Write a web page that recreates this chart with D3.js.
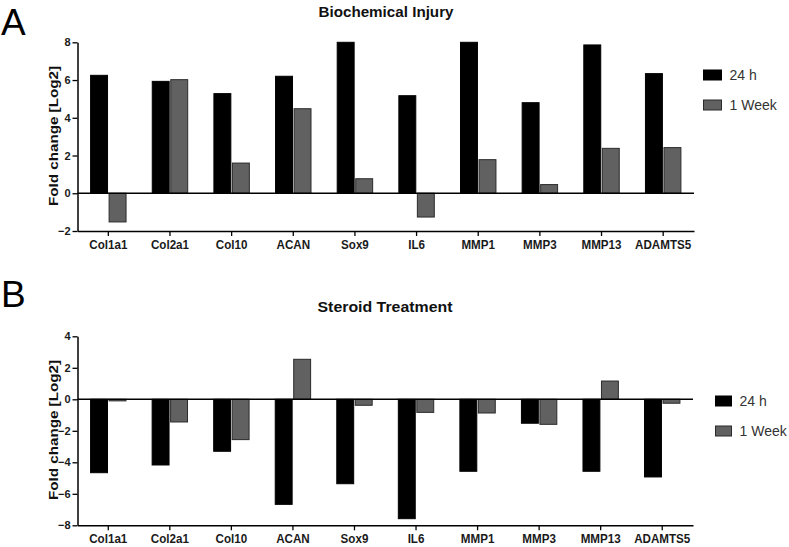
<!DOCTYPE html>
<html>
<head>
<meta charset="utf-8">
<script src="https://cdn.jsdelivr.net/npm/d3@7"></script>
<style>
  html, body { margin: 0; padding: 0; background: #fff; }
  svg { display: block; font-family: "Liberation Sans", Arial, sans-serif; }
</style>
</head>
<body>
<svg id="chart" width="789" height="547"></svg>
<script>
// ---- data ----
const categories = ["Col1a1","Col2a1","Col10","ACAN","Sox9","IL6","MMP1","MMP3","MMP13","ADAMTS5"];
const seriesNames = ["24 h", "1 Week"];
const injury24h  = [6.25, 5.93, 5.28, 6.20, 8.00, 5.17, 8.00, 4.80, 7.86, 6.34];
const injury1wk  = [-1.52, 6.02, 1.60, 4.48, 0.77, -1.26, 1.78, 0.46, 2.38, 2.42];
const steroid24h = [-4.66, -4.17, -3.30, -6.67, -5.36, -7.58, -4.57, -1.52, -4.57, -4.93];
const steroid1wk = [-0.10, -1.44, -2.56, 2.54, -0.38, -0.83, -0.87, -1.59, 1.16, -0.25];
const injuryTicks  = [-2, 0, 2, 4, 6, 8];
const steroidTicks = [-8, -6, -4, -2, 0, 2, 4];
const panelTitles = ["Biochemical Injury", "Steroid Treatment"];
const panelLetters = ["A", "B"];
const yLabel = "Fold change [Log2]";

// ---- styles ----
const fills = ["#000000", "#616161"];
const strokes = ["#000000", "#2b2b2b"];

const svg = d3.select("#chart");

function panel(cfg) {
  const g = svg.append("g");
  const x = d3.scaleBand().domain(categories).range(cfg.xr).paddingInner(0.425).paddingOuter(0.2125);
  const xs = d3.scaleBand().domain(seriesNames).range([0, x.bandwidth()]).paddingInner(0.085).paddingOuter(0);
  const y = d3.scaleLinear().domain(cfg.dom).range(cfg.yr);

  // letter
  g.append("text").attr("x", 1).attr("y", cfg.letterY)
    .attr("font-size", 37).attr("fill", "#000").text(cfg.letter);

  // title
  g.append("text").attr("x", cfg.titleX).attr("y", cfg.titleY)
    .attr("text-anchor", "middle").attr("font-size", 14).attr("font-weight", "bold")
    .attr("textLength", 135).attr("lengthAdjust", "spacingAndGlyphs")
    .attr("fill", "#111").text(cfg.title);

  // bars
  const data = [];
  categories.forEach((c, i) => {
    data.push({c, s: seriesNames[0], v: cfg.a[i], k: 0});
    data.push({c, s: seriesNames[1], v: cfg.b[i], k: 1});
  });
  g.append("g").selectAll("rect").data(data).join("rect")
    .attr("x", d => x(d.c) + xs(d.s))
    .attr("width", xs.bandwidth())
    .attr("y", d => y(Math.max(0, d.v)))
    .attr("height", d => Math.abs(y(d.v) - y(0)))
    .attr("fill", d => fills[d.k])
    .attr("stroke", d => strokes[d.k])
    .attr("stroke-width", 1);

  // zero line
  g.append("line").attr("x1", cfg.xr[0]).attr("x2", cfg.xr[1])
    .attr("y1", y(0)).attr("y2", y(0)).attr("stroke", "#000").attr("stroke-width", 1.5);

  // y axis
  const ya = g.append("g").attr("transform", `translate(${cfg.xr[0]},0)`)
    .call(d3.axisLeft(y).tickValues(cfg.ticks).tickSize(5).tickSizeOuter(0).tickPadding(2).tickFormat(d3.format("d")));
  ya.select(".domain").attr("stroke", "#000").attr("stroke-width", 1.5);
  ya.selectAll(".tick line").attr("stroke", "#000").attr("stroke-width", 1.3);
  ya.selectAll(".tick text").attr("font-size", 11).attr("font-weight", "bold")
    .attr("fill", "#1a1a1a").attr("font-family", "Liberation Sans, Arial, sans-serif");

  // x axis at bottom
  const xa = g.append("g").attr("transform", `translate(0,${cfg.yr[0]})`)
    .call(d3.axisBottom(x).tickSize(5).tickSizeOuter(0).tickPadding(4));
  xa.select(".domain").attr("stroke", "#000").attr("stroke-width", 1.5);
  xa.selectAll(".tick line").attr("stroke", "#000").attr("stroke-width", 1.3);
  xa.selectAll(".tick text").attr("font-size", 12.5).attr("font-weight", "bold")
    .attr("fill", "#1a1a1a").attr("font-family", "Liberation Sans, Arial, sans-serif")
    .each(function () {
      const w = this.getComputedTextLength();
      d3.select(this).attr("textLength", w * 0.93).attr("lengthAdjust", "spacingAndGlyphs");
    });

  // y label
  g.append("text").attr("transform", `translate(58,${cfg.ylabY}) rotate(-90)`)
    .attr("text-anchor", "middle").attr("font-size", 12.5).attr("font-weight", "bold")
    .attr("textLength", 140).attr("lengthAdjust", "spacingAndGlyphs")
    .attr("fill", "#111").text(yLabel);

  // legend
  const lg = g.append("g");
  seriesNames.forEach((s, k) => {
    lg.append("rect").attr("x", cfg.legX).attr("y", cfg.legY + k * 30)
      .attr("width", cfg.legW).attr("height", 10)
      .attr("fill", fills[k]).attr("stroke", strokes[k]).attr("stroke-width", 1);
    lg.append("text").attr("x", cfg.legX + cfg.legW + 8).attr("y", cfg.legY + k * 30 + 10)
      .attr("font-size", 14).attr("fill", "#333").text(s);
  });
}

panel({
  letter: panelLetters[0], letterY: 34.5,
  title: panelTitles[0], titleX: 386, titleY: 17,
  a: injury24h, b: injury1wk, ticks: injuryTicks,
  dom: [-2, 8], yr: [231, 42.3], xr: [77.5, 694],
  ylabY: 136,
  legX: 703.5, legY: 70, legW: 18
});

panel({
  letter: panelLetters[1], letterY: 307,
  title: panelTitles[1], titleX: 385, titleY: 312,
  a: steroid24h, b: steroid1wk, ticks: steroidTicks,
  dom: [-8, 4], yr: [525.3, 336.3], xr: [77.5, 693],
  ylabY: 430,
  legX: 715.5, legY: 396, legW: 16
});
</script>
</body>
</html>
